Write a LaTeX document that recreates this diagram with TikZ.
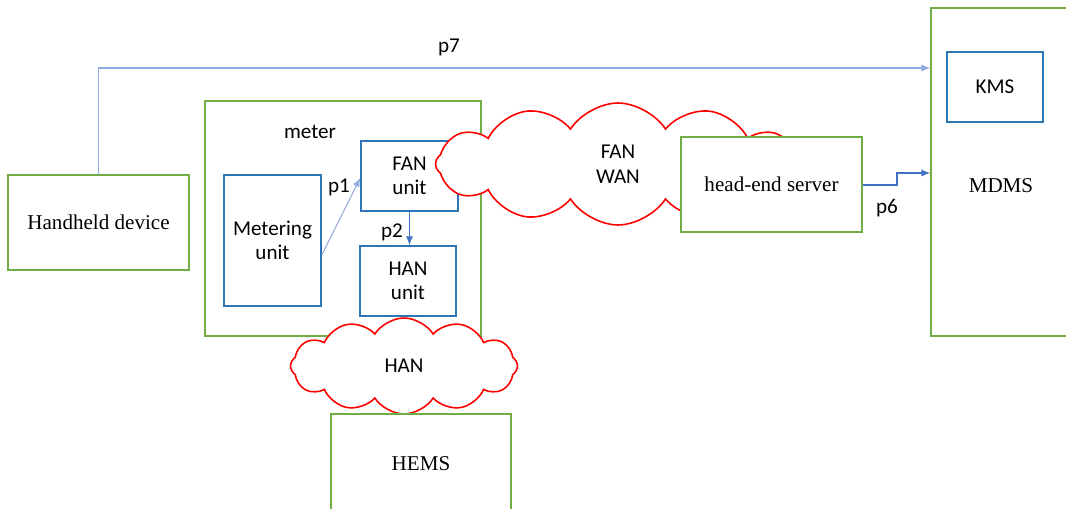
\documentclass[tikz,border=0pt]{standalone}
\usepackage{fontspec}
\setmainfont{Liberation Serif}
\newfontfamily\calibri{Carlito}
\usetikzlibrary{arrows.meta,shapes.symbols}
\definecolor{boxgreen}{HTML}{70AD47}
\definecolor{unitblue}{HTML}{2E75B6}
\definecolor{linkblue}{HTML}{4472C4}
\definecolor{lightlink}{HTML}{8FAADC}
\tikzset{
	sysbox/.style={draw=boxgreen, line width=0.9pt, fill=white, font=\fontsize{12}{14}\selectfont},
	unitbox/.style={draw=unitblue, line width=0.9pt, fill=white, align=center, font=\calibri\fontsize{12}{14}\selectfont},
	netcloud/.style={cloud, draw=red, line width=0.9pt, fill=white, cloud puffs=12, cloud puff arc=115, align=center, font=\calibri\fontsize{12}{14}\selectfont},
	lbl/.style={font=\calibri\fontsize{12}{14}\selectfont},
	link/.style={draw=linkblue, line width=0.6pt, -{Latex[length=5pt,width=4pt]}}
}
\begin{document}
\begin{tikzpicture}[x=0.02cm, y=-0.02cm]
			\useasboundingbox (0,0) rectangle (1066,509);
			\node[sysbox, minimum width=3.62cm, minimum height=1.9cm] (handheld) at (98.5,222.5) {Handheld device};
			\node[sysbox, minimum width=5.52cm, minimum height=4.7cm] (meter) at (343,218.5) {};
			\node[lbl] (meterlabel) at (310,132) {meter};
			\node[unitbox, minimum width=1.94cm, minimum height=2.62cm] (metering) at (272.5,240.5) {Metering\\unit};
			\node[unitbox, minimum width=1.94cm, minimum height=1.4cm] (fanunit) at (409.5,176) {FAN\\unit};
			\node[unitbox, minimum width=1.92cm, minimum height=1.4cm] (hanunit) at (408,281) {HAN\\unit};
			\node[netcloud, minimum width=7.3cm, minimum height=2.44cm] (fanwan) at (618,164) {FAN\\WAN};
			\node[sysbox, minimum width=3.62cm, minimum height=1.9cm] (headend) at (771.5,184.5) {head-end server};
			\node[netcloud, minimum width=4.54cm, minimum height=1.92cm] (han) at (404,366) {HAN};
			\node[sysbox, minimum width=3.6cm, minimum height=2cm] (hems) at (421,464) {HEMS};
			\node[sysbox, minimum width=3.2cm, minimum height=6.56cm] (mdms) at (1011,172) {};
			\node[sysbox, draw=none, fill=none] (mdmslabel) at (1001,186) {MDMS};
			\node[unitbox, minimum width=1.92cm, minimum height=1.4cm] (kms) at (995,87) {KMS};
			\coordinate (p7up) at (98.5,68);
			\coordinate (p6a) at (897,185);
			\coordinate (p6b) at (897,173);
			\draw[link, draw=lightlink] (handheld.north) -- (p7up) -- (p7up -| mdms.west);
			\draw[link, draw=lightlink] (metering.east |- 0,255) -- (fanunit.west |- 0,178);
			\draw[link] (fanunit.south) -- (hanunit.north -| fanunit.south);
			\draw[link] (headend.east |- p6a) -- (p6a) -- (p6b) -- (p6b -| mdms.west);
			\node[lbl] (p7) at (449,47) {p7};
			\node[lbl] (p1) at (339,187) {p1};
			\node[lbl] (p2) at (392,232) {p2};
			\node[lbl] (p6) at (887,208) {p6};
		\end{tikzpicture}
\end{document}
